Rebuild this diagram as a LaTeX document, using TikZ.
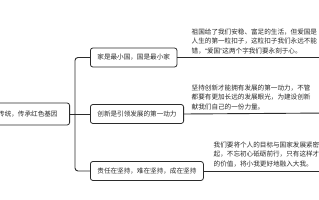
\documentclass[tikz,border=0pt]{standalone}
\usepackage{fontspec}
\setmainfont{Noto Sans CJK SC}
\newfontfamily\latinq{Liberation Sans}
\definecolor{ink}{HTML}{2B2B2B}
\begin{document}
\begin{tikzpicture}[x=1pt,y=-1pt,
  every node/.style={font=\fontsize{6.6}{9.4}\selectfont, text=ink},
  box/.style={draw=ink, line width=0.8pt, rounded corners=2.5pt, minimum height=19pt, inner xsep=7pt, inner ysep=0pt, anchor=west},
  conn/.style={draw=ink, line width=0.9pt},
  para/.style={align=left, anchor=south west, inner sep=0pt}]
\useasboundingbox (0,0) rectangle (319,200);
\clip (0,0) rectangle (319,200);
\fill[white] (0,0) rectangle (319,200);
\node[box, anchor=east, minimum height=22pt, inner xsep=12pt] (root) at (70,114) {弘扬优良传统，传承红色基因};
\node[box] (b1) at (90,57.5) {家是最小国，国是最小家};
\node[box] (b2) at (90,114) {创新是引领发展的第一动力};
\node[box] (b3) at (90,171) {责任在坚持，难在坚持，成在坚持};
\coordinate (t) at (75,114);
\draw[conn] (root.east) -- (t);
\draw[conn, rounded corners=3pt] (t) |- (b1.west);
\draw[conn] (t) -- (b2.west);
\draw[conn, rounded corners=3pt] (t) |- (b3.west);
\coordinate (e1) at (330,57.5);
\coordinate (e2) at (330,113);
\coordinate (e3) at (330,171);
\draw[conn] (b1.east) -- (e1);
\draw[conn] (b2.east) -- (e2);
\draw[conn] (b3.east) -- (e3);
\node[para] (p1) at (191.5,54) {祖国给了我们安稳、富足的生活，但爱国是\\人生的第一粒扣子，这粒扣子我们永远不能\\错，{\latinq “}爱国{\latinq ”}这两个字我们要永刻于心。};
\node[para] (p2) at (191.5,110) {坚持创新才能拥有发展的第一动力，不管\\都要有更加长远的发展眼光，为建设创新\\献我们自己的一份力量。};
\node[para] (p3) at (213.5,167) {我们要将个人的目标与国家发展紧密\\起，不忘初心砥砺前行，只有这样才\\的价值，将小我更好地融入大我。};
\end{tikzpicture}
\end{document}
